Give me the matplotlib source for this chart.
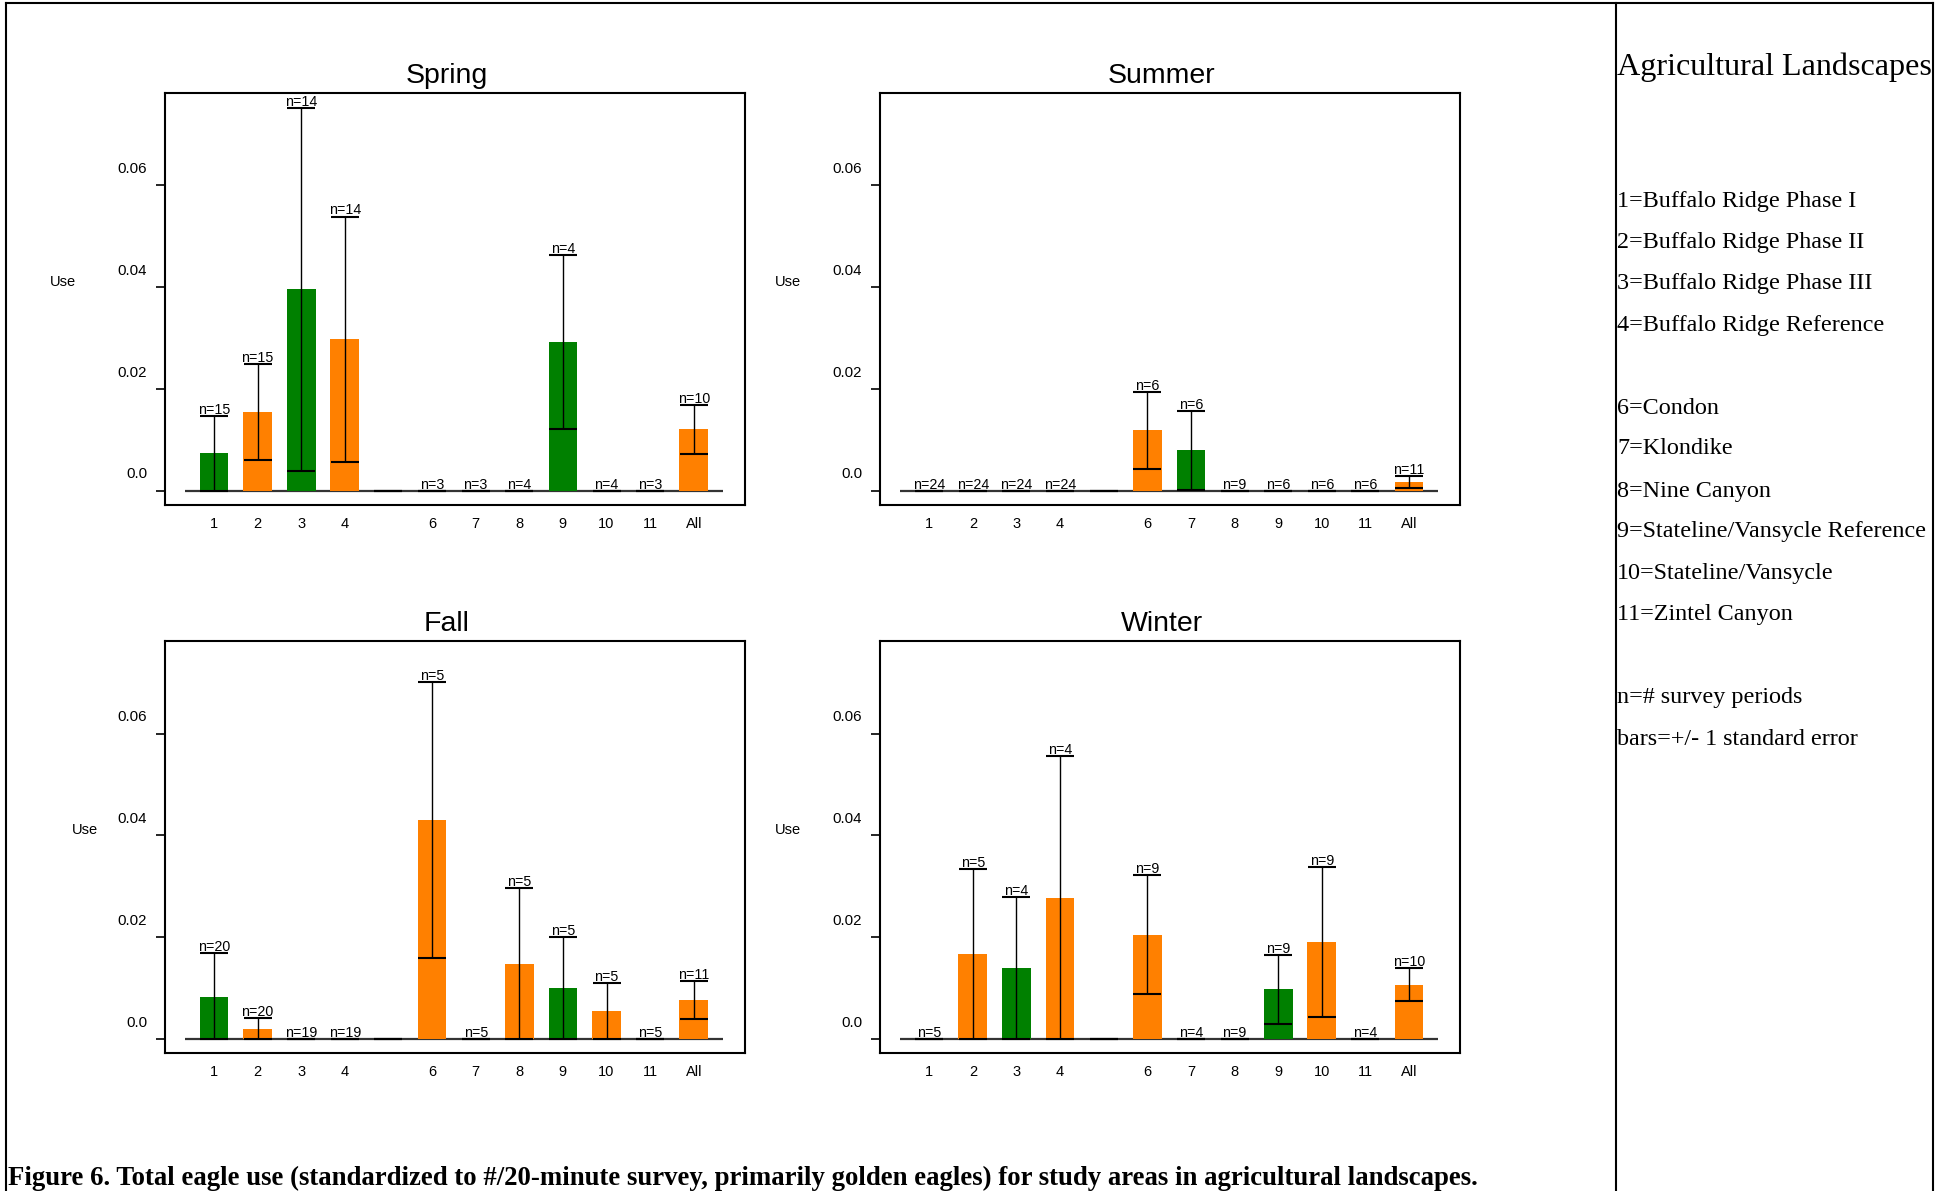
import matplotlib
matplotlib.use("Agg")
import matplotlib.pyplot as plt
from matplotlib.lines import Line2D
from matplotlib.transforms import ScaledTranslation
import numpy as np

# study areas (5 is an empty slot in the original figure)
categories = ["1", "2", "3", "4", "", "6", "7", "8", "9", "10", "11", "All"]

spring_use = [0.0074, 0.0155, 0.0396, 0.0298, 0, 0, 0, 0, 0.0292, 0, 0, 0.0121]
spring_se = [0.0074, 0.0095, 0.0356, 0.0241, 0, 0, 0, 0, 0.0171, 0, 0, 0.0048]
spring_n = [15, 15, 14, 14, None, 3, 3, 4, 4, 4, 3, 10]

summer_use = [0, 0, 0, 0, 0, 0.0119, 0.0080, 0, 0, 0, 0, 0.0018]
summer_se = [0, 0, 0, 0, 0, 0.0076, 0.0078, 0, 0, 0, 0, 0.0012]
summer_n = [24, 24, 24, 24, None, 6, 6, 9, 6, 6, 6, 11]

fall_use = [0.0083, 0.0020, 0, 0, 0, 0.0431, 0, 0.0148, 0.0100, 0.0056, 0, 0.0077]
fall_se = [0.0086, 0.0022, 0, 0, 0, 0.0271, 0, 0.0149, 0.0100, 0.0055, 0, 0.0038]
fall_n = [20, 20, 19, 19, None, 5, 5, 5, 5, 5, 5, 11]

winter_use = [0, 0.0167, 0.0140, 0.0278, 0, 0.0205, 0, 0, 0.0098, 0.0191, 0, 0.0107]
winter_se = [0, 0.0167, 0.0139, 0.0278, 0, 0.0117, 0, 0, 0.0068, 0.0147, 0, 0.0033]
winter_n = [5, 5, 4, 4, None, 9, 4, 9, 9, 9, 4, 10]

legend_title = "Agricultural Landscapes"
legend_lines = ["1=Buffalo Ridge Phase I", "2=Buffalo Ridge Phase II",
                "3=Buffalo Ridge Phase III", "4=Buffalo Ridge Reference", "",
                "6=Condon", "7=Klondike", "8=Nine Canyon",
                "9=Stateline/Vansycle Reference", "10=Stateline/Vansycle",
                "11=Zintel Canyon", "",
                "n=# survey periods", "bars=+/- 1 standard error"]
caption = ("Figure 6. Total eagle use (standardized to #/20-minute survey, "
           "primarily golden eagles) for study areas in agricultural landscapes.")

GREEN = "#008000"
ORANGE = "#FF8000"
bar_colors = [GREEN, ORANGE, GREEN, ORANGE, ORANGE, ORANGE, GREEN, ORANGE,
              GREEN, ORANGE, ORANGE, ORANGE]
BAR_W = 0.66

W, H = 1940, 1191
fig = plt.figure(figsize=(W / 100, H / 100), dpi=100)
plt.rcParams["font.family"] = ["Liberation Sans", "DejaVu Sans"]

panels = [
    ("Spring", spring_use, spring_se, spring_n, 164.5, 92.8, -0.175),
    ("Summer", summer_use, summer_se, summer_n, 879.7, 92.8, -0.158),
    ("Fall", fall_use, fall_se, fall_n, 164.5, 640.9, -0.137),
    ("Winter", winter_use, winter_se, winter_n, 879.7, 640.9, -0.158),
]

x = np.arange(len(categories))
for title, use, se, n, px, py, ylab_x in panels:
    ax = fig.add_axes([px / W, 1 - (py + 412) / H, 580.3 / W, 412 / H])
    use = np.array(use)
    se = np.array(se)
    lower = np.clip(use - se, 0, None)
    upper = use + se

    ax.hlines(0, x[0] - BAR_W, x[-1] + BAR_W, color="#333333", lw=1.6, zorder=1)
    ax.bar(x, use, width=BAR_W, color=bar_colors, zorder=2)
    ax.errorbar(x, use, yerr=[use - lower, upper - use], fmt="none",
                ecolor="black", elinewidth=1.0, capsize=10, capthick=1.5, zorder=3)
    for xi, top, ni in zip(x, upper, n):
        if ni is None:
            continue
        ax.annotate(f"n={ni}", (xi, top), xytext=(0, 1.5), textcoords="offset points",
                    ha="center", va="baseline", fontsize=10.3)

    ax.set_xlim(-1.135, 12.17)
    ax.set_ylim(-0.0027, 0.0782)
    ax.set_xticks(x)
    ax.set_xticklabels(categories, fontsize=10.5)
    ax.tick_params(axis="x", length=0, pad=9)
    ax.set_yticks([0, 0.02, 0.04, 0.06])
    ax.set_yticklabels(["0.0", "0.02", "0.04", "0.06"], fontsize=10.8)
    ax.tick_params(axis="y", length=6.5, width=1.2, pad=6)
    for lab in ax.get_yticklabels():
        lab.set_transform(lab.get_transform() + ScaledTranslation(0, 13 / 72, fig.dpi_scale_trans))
    for sp in ax.spines.values():
        sp.set_linewidth(1.5)
    ax.set_title(title, fontsize=20.5, pad=7, x=0.486)
    ax.set_ylabel("Use", rotation=0, fontsize=10.5, ha="center", va="center")
    ax.yaxis.set_label_coords(ylab_x, 0.541)

# page frame
for xs, ys in [((6, 1933), (3, 3)), ((6, 6), (3, H)), ((1615.7, 1615.7), (3, H)),
               ((1933, 1933), (3, H))]:
    fig.add_artist(Line2D([v / W for v in xs], [1 - v / H for v in ys],
                          color="black", lw=1.5, transform=fig.transFigure))

serif = ["Liberation Serif", "DejaVu Serif"]
fig.text(1617 / W, 1 - 67 / H, legend_title, family=serif, fontsize=23.1,
         ha="left", va="center")
ys = [198, 238.8, 279.6, 321.7, None, 404.6, 445.4, 487.5, 528.3, 570.3, 611.2,
      None, 694.1, 736.1]
for line, yy in zip(legend_lines, ys):
    if not line:
        continue
    fig.text(1617 / W, 1 - (yy + 3.5) / H, line, family=serif, fontsize=17.4,
             ha="left", va="center")

fig.text(8 / W, 1 - 1178 / H, caption, family=serif, fontsize=19.3,
         fontweight="bold", ha="left", va="center")

fig.savefig("out.png", dpi=100)
